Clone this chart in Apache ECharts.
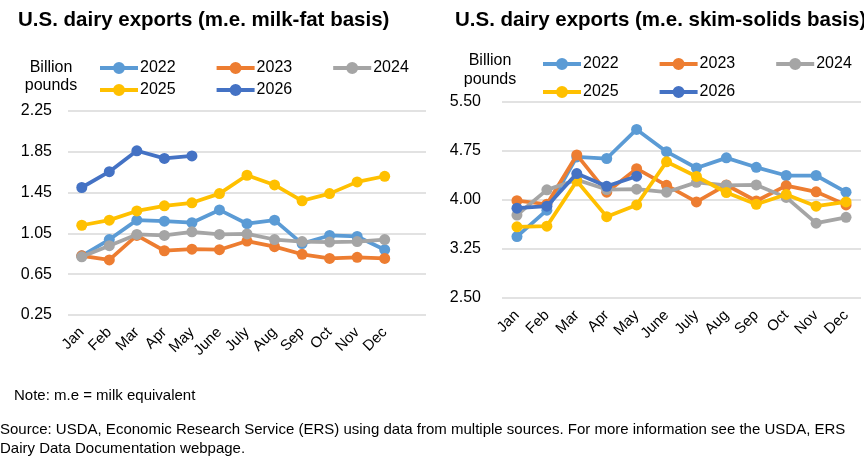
<!DOCTYPE html>
<html>
<head>
<meta charset="utf-8">
<script src="https://cdn.jsdelivr.net/npm/echarts@6/dist/echarts.min.js"></script>
<style>
  html, body { margin: 0; padding: 0; background: #fff; }
  #chart { width: 864px; height: 475px; }
</style>
</head>
<body>
<div id="chart"></div>
<script>
var months = ['Jan', 'Feb', 'Mar', 'Apr', 'May', 'June', 'July', 'Aug', 'Sep', 'Oct', 'Nov', 'Dec'];
var years = ['2022', '2023', '2024', '2025', '2026'];
var colors = ['#5B9BD5', '#ED7D31', '#A5A5A5', '#FFC000', '#4472C4'];

// milk-fat basis, billion pounds
var fat2022 = [0.83, 0.99, 1.18, 1.17, 1.155, 1.28, 1.145, 1.18, 0.95, 1.03, 1.02, 0.89];
var fat2023 = [0.83, 0.79, 1.03, 0.88, 0.895, 0.89, 0.975, 0.92, 0.845, 0.805, 0.815, 0.805];
var fat2024 = [0.82, 0.93, 1.04, 1.03, 1.065, 1.04, 1.045, 0.99, 0.97, 0.965, 0.97, 0.99];
var fat2025 = [1.13, 1.18, 1.27, 1.32, 1.35, 1.44, 1.62, 1.525, 1.37, 1.44, 1.555, 1.61];
var fat2026 = [1.50, 1.655, 1.86, 1.785, 1.81];

// skim-solids basis, billion pounds
var skim2022 = [3.44, 3.845, 4.66, 4.635, 5.08, 4.74, 4.49, 4.645, 4.50, 4.375, 4.375, 4.12];
var skim2023 = [3.99, 3.935, 4.69, 4.12, 4.48, 4.225, 3.97, 4.23, 3.985, 4.22, 4.125, 3.925];
var skim2024 = [3.77, 4.155, 4.31, 4.16, 4.165, 4.12, 4.27, 4.225, 4.23, 4.04, 3.645, 3.735];
var skim2025 = [3.59, 3.60, 4.29, 3.745, 3.925, 4.585, 4.36, 4.115, 3.935, 4.085, 3.905, 3.97];
var skim2026 = [3.875, 3.905, 4.405, 4.21, 4.365];

var fatSeries = [fat2022, fat2023, fat2024, fat2025, fat2026];
var skimSeries = [skim2022, skim2023, skim2024, skim2025, skim2026];

var fontFamily = '"Liberation Sans", Arial, sans-serif';
// line with a dot in the middle, like the spreadsheet legend
var legendIcon = 'path://M0,4 L38,4 L38,8 L0,8 Z M19,0 A6,6 0 1 1 19,12 A6,6 0 1 1 19,0 Z';

function makeSeries(list, axisIndex) {
    var out = [];
    for (var i = 0; i < list.length; i++) {
        out.push({
            name: years[i],
            type: 'line',
            xAxisIndex: axisIndex,
            yAxisIndex: axisIndex,
            data: list[i],
            symbol: 'circle',
            symbolSize: 11,
            lineStyle: { width: 3.75, color: colors[i] },
            itemStyle: { color: colors[i] },
            z: 2 + i,
            animation: false
        });
    }
    return out;
}

function makeLegend(left, top, names) {
    return {
        left: left,
        top: top,
        padding: 0,
        data: names,
        icon: legendIcon,
        itemWidth: 38,
        itemHeight: 12,
        itemGap: 41,
        textStyle: { fontFamily: fontFamily, fontSize: 16, color: '#000', padding: [0, 0, 0, -3] },
        selectedMode: false
    };
}

function xAxisFor(gridIndex, cats) {
    return {
        type: 'category',
        gridIndex: gridIndex,
        data: cats,
        boundaryGap: true,
        axisLine: { show: false },
        axisTick: { show: false },
        axisLabel: { rotate: 45, fontFamily: fontFamily, fontSize: 15, color: '#000', margin: 15, interval: 0 }
    };
}

function yAxisFor(gridIndex, min, max, step, gap) {
    return {
        type: 'value',
        gridIndex: gridIndex,
        min: min,
        max: max,
        interval: step,
        axisLine: { show: false },
        axisTick: { show: false },
        splitLine: { lineStyle: { color: '#D9D9D9', width: 1.5 } },
        axisLabel: {
            fontFamily: fontFamily, fontSize: 16, color: '#000', margin: gap,
            formatter: function (v) { return v.toFixed(2); }
        }
    };
}

var chart = echarts.init(document.getElementById('chart'));

var option = {
    backgroundColor: '#fff',
    animation: false,
    title: [{
        text: 'U.S. dairy exports (m.e. milk-fat basis)',
        left: 18, top: 10, padding: 0,
        textStyle: { fontFamily: fontFamily, fontSize: 20.5, fontWeight: 'bold', color: '#000' }
    }, {
        text: 'U.S. dairy exports (m.e. skim-solids basis)',
        left: 455, top: 10, padding: 0,
        textStyle: { fontFamily: fontFamily, fontSize: 20.5, fontWeight: 'bold', color: '#000' }
    }],
    legend: [
        makeLegend(100, 60, ['2022', '2023', '2024']),
        makeLegend(100, 82, ['2025', '2026']),
        makeLegend(543, 56, ['2022', '2023', '2024']),
        makeLegend(543, 84, ['2025', '2026'])
    ],
    grid: [
        { left: 68, top: 111, width: 358, height: 204 },
        { left: 502, top: 102, width: 359, height: 196 }
    ],
    xAxis: [
        xAxisFor(0, months.concat([''])),
        xAxisFor(1, months)
    ],
    yAxis: [
        yAxisFor(0, 0.25, 2.25, 0.4, 16),
        yAxisFor(1, 2.5, 5.5, 0.75, 21)
    ],
    series: makeSeries(fatSeries, 0).concat(makeSeries(skimSeries, 1)),
    graphic: [
        { type: 'text', x: 51, y: 59, style: { text: 'Billion\npounds', fontFamily: fontFamily, fontSize: 16, lineHeight: 18, fill: '#000', align: 'center' } },
        { type: 'text', x: 490, y: 51, style: { text: 'Billion\npounds', fontFamily: fontFamily, fontSize: 16, lineHeight: 19, fill: '#000', align: 'center' } },
        { type: 'text', x: 14, y: 388, style: { text: 'Note: m.e = milk equivalent', fontFamily: fontFamily, fontSize: 15, fill: '#000' } },
        { type: 'text', x: 0, y: 420, style: { text: 'Source: USDA, Economic Research Service (ERS) using data from multiple sources. For more information see the USDA, ERS\nDairy Data Documentation webpage.', fontFamily: fontFamily, fontSize: 15, lineHeight: 19, fill: '#000' } }
    ]
};

chart.setOption(option);
</script>
</body>
</html>
